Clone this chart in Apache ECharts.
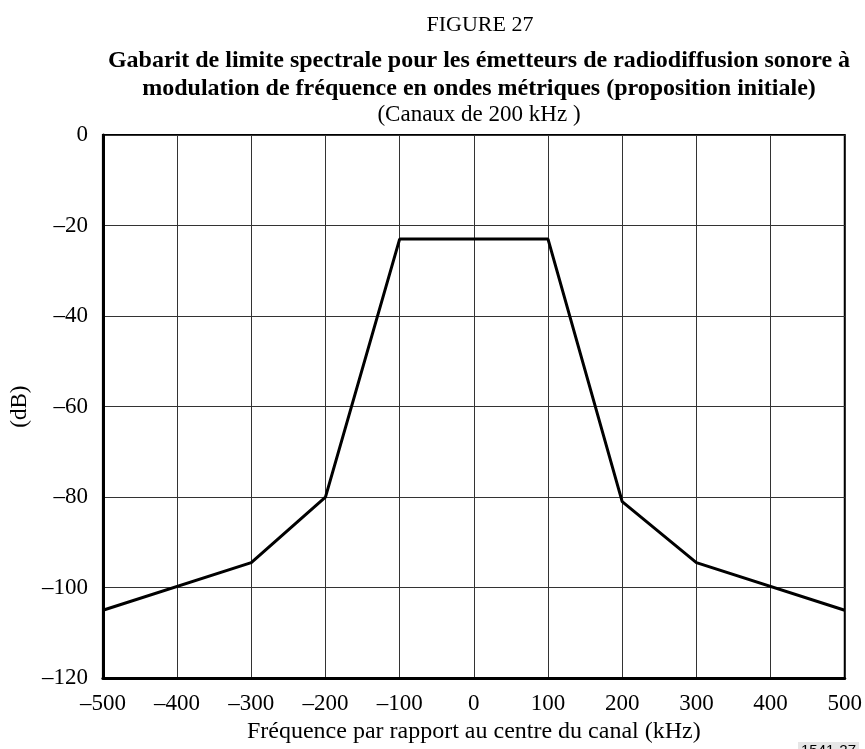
<!DOCTYPE html>
<html>
<head>
<meta charset="utf-8">
<script src="https://cdn.jsdelivr.net/npm/echarts@6/dist/echarts.min.js"></script>
<style>
html,body{margin:0;padding:0;background:#fff;}
#chart{width:865px;height:749px;}
</style>
</head>
<body>
<div id="chart"></div>
<script>
const freqKHz = [-500, -300, -200, -100, 100, 200, 300, 500];
const levelDB = [-105, -94.5, -80, -23, -23, -81, -94.5, -105];
const xTicks = [-500, -400, -300, -200, -100, 0, 100, 200, 300, 400, 500];
const yTicks = [-120, -100, -80, -60, -40, -20, 0];

const FONT = '"Liberation Serif", "DejaVu Serif", serif';
const fmt = v => (v < 0 ? '\u2013' + Math.abs(v) : String(v));

const chart = echarts.init(document.getElementById('chart'), null, {renderer: 'canvas'});
chart.setOption({
  animation: false,
  backgroundColor: '#fff',
  graphic: [
    {type: 'text', x: 480, y: 25, z: 10,
     style: {text: 'FIGURE 27', fontFamily: FONT, fontSize: 22, fill: '#000', align: 'center', verticalAlign: 'middle'}},
    {type: 'text', x: 479, y: 61, z: 10,
     style: {text: 'Gabarit de limite spectrale pour les émetteurs de radiodiffusion sonore à', fontFamily: FONT, fontWeight: 'bold', fontSize: 24, fill: '#000', align: 'center', verticalAlign: 'middle'}},
    {type: 'text', x: 479, y: 89, z: 10,
     style: {text: 'modulation de fréquence en ondes métriques (proposition initiale)', fontFamily: FONT, fontWeight: 'bold', fontSize: 24, fill: '#000', align: 'center', verticalAlign: 'middle'}},
    {type: 'text', x: 479, y: 115, z: 10,
     style: {text: '(Canaux de 200 kHz )', fontFamily: FONT, fontSize: 23, fill: '#000', align: 'center', verticalAlign: 'middle'}},
    {type: 'text', x: 798, y: 742, z: 10,
     style: {text: '1541-27', fontFamily: '"Liberation Sans", sans-serif', fontSize: 15, fill: '#000',
             backgroundColor: '#e6e6e6', padding: [1, 3]}}
  ],
  grid: {left: 92, right: 17, top: 135, bottom: 69, show: true, borderColor: '#000', borderWidth: 2, containLabel: false},
  xAxis: {
    type: 'value', min: xTicks[0], max: xTicks[xTicks.length - 1], interval: 100,
    name: 'Fréquence par rapport au centre du canal (kHz)',
    nameLocation: 'middle', nameGap: 41,
    nameTextStyle: {fontFamily: FONT, fontSize: 24, color: '#000'},
    axisLine: {show: true, onZero: false, lineStyle: {color: '#000', width: 3}},
    axisTick: {show: false},
    axisLabel: {fontFamily: FONT, fontSize: 23, color: '#000', margin: 14, formatter: fmt},
    splitLine: {show: true, lineStyle: {color: '#333', width: 1}}
  },
  yAxis: {
    type: 'value', min: yTicks[0], max: yTicks[yTicks.length - 1], interval: 20,
    name: '(dB)', nameLocation: 'middle', nameGap: 60, nameRotate: 90,
    nameTextStyle: {fontFamily: FONT, fontSize: 23, color: '#000'},
    axisLine: {show: true, onZero: false, lineStyle: {color: '#000', width: 3}},
    axisTick: {show: false},
    axisLabel: {fontFamily: FONT, fontSize: 23, color: '#000', margin: 15, formatter: fmt},
    splitLine: {show: true, lineStyle: {color: '#333', width: 1}}
  },
  series: [{
    type: 'line',
    data: freqKHz.map((f, i) => [f, levelDB[i]]),
    showSymbol: false,
    lineStyle: {color: '#000', width: 3},
    z: 5
  }]
});
</script>
</body>
</html>
